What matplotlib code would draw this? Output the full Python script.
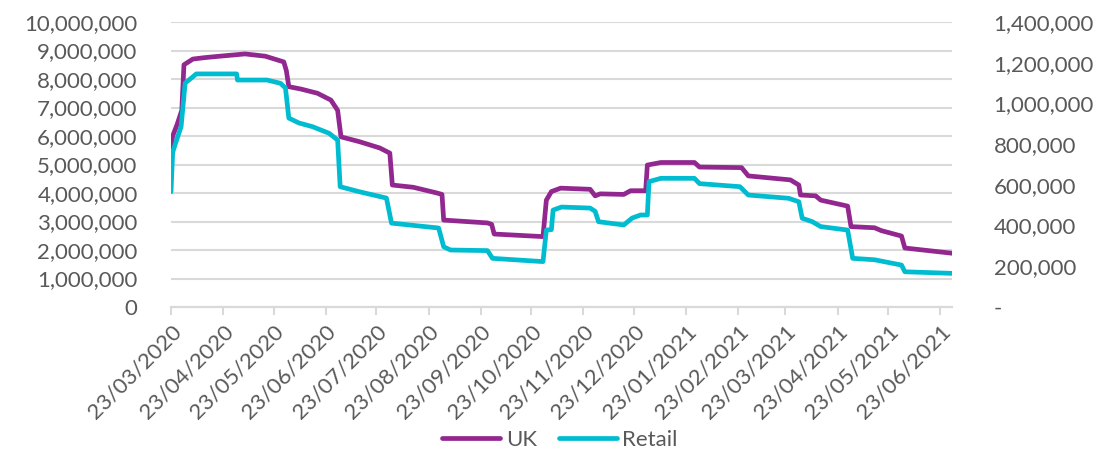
import matplotlib
matplotlib.use('Agg')
from matplotlib import pyplot as plt
import matplotlib.dates as mdates
from matplotlib.ticker import FuncFormatter
import numpy as np
import datetime as dt

# day offsets from 23/03/2020 and values
uk_days = [0, 1, 3.6, 6.4, 7.7, 13, 20, 29, 44, 56, 67, 68.5, 70, 77, 87, 95, 99, 101,
           112, 124, 130, 131.5, 144, 158, 161, 162, 188, 190.5, 192, 221, 223, 226,
           231.5, 249, 252, 255, 269, 273, 282, 283, 291, 311, 314, 339, 343, 368, 373,
           374, 383, 386, 402, 404, 418, 422, 434, 436, 465]
uk_vals = [5.6, 6.0, 6.4, 6.9, 8.5, 8.7, 8.75, 8.8, 8.88, 8.8, 8.6, 8.3, 7.73, 7.65, 7.5,
           7.26, 6.9, 5.97, 5.8, 5.58, 5.4, 4.28, 4.2, 4.0, 3.95, 3.05, 2.95, 2.9, 2.56,
           2.47, 3.75, 4.05, 4.17, 4.13, 3.9, 3.97, 3.95, 4.08, 4.08, 4.98, 5.07, 5.07,
           4.91, 4.89, 4.6, 4.46, 4.28, 3.93, 3.9, 3.75, 3.54, 2.82, 2.78, 2.68, 2.49,
           2.07, 1.88]  # millions

retail_days = [0, 1, 3, 6, 8.4, 13, 15, 39, 39.5, 57, 65, 68, 70, 76, 84, 94, 99, 100.5,
               112, 128, 131, 159, 162, 166, 188, 191, 221, 223, 226, 227, 232, 249, 252,
               254, 269, 274, 279, 283, 284, 291, 311, 314, 338, 343, 367, 373, 375, 381,
               386, 402, 405, 418, 434, 436, 465]
retail_vals = [566, 760, 812, 886, 1100, 1131, 1145, 1145, 1115, 1115, 1099, 1076, 928,
               904, 886, 853, 820, 591, 566, 535, 412, 388, 296, 280, 277, 239, 223, 378,
               380, 476, 491, 486, 470, 419, 403, 437, 452, 452, 616, 632, 632, 606, 591,
               550, 534, 517, 436, 419, 395, 378, 239, 232, 206, 173, 165]  # thousands

start = dt.datetime(2020, 3, 23)
tick_dates = [dt.datetime(2020 + (2 + m) // 12, (2 + m) % 12 + 1, 23) for m in range(16)]

#############################################
#                 畫圖                       #
#############################################
plt.rcParams['font.family'] = ['Lato', 'DejaVu Sans']
grey = '#595959'
fs = 16

fig = plt.figure(figsize=(11, 4.54), dpi=100)
ax = fig.add_axes([171/1100, 1-307/454, (952-171)/1100, (307-22)/454])
ax2 = ax.twinx()

uk_x = [start + dt.timedelta(days=d) for d in uk_days]
rt_x = [start + dt.timedelta(days=d) for d in retail_days]
l1, = ax.plot(uk_x, np.array(uk_vals)*1e6, color='#92278F', lw=3.4, solid_joinstyle='round',
              solid_capstyle='round', label='UK', zorder=3)
l2, = ax2.plot(rt_x, np.array(retail_vals)*1e3, color='#00BCD0', lw=3.4, solid_joinstyle='round',
               solid_capstyle='round', label='Retail', zorder=3)

ax.set_ylim(0, 10e6)
ax.set_yticks(np.arange(0, 10.1e6, 1e6))
ax.yaxis.set_major_formatter(FuncFormatter(lambda v, p: f'{int(v):,}'))
ax2.set_ylim(0, 1.4e6)
ax2.set_yticks(np.arange(0, 1.41e6, 2e5))
ax2.yaxis.set_major_formatter(FuncFormatter(lambda v, p: '-' if v == 0 else f'{int(v):,}'))

ax.set_xlim(start, dt.datetime(2021, 6, 30))
ax.set_xticks(tick_dates)
ax.xaxis.set_major_formatter(mdates.DateFormatter('%d/%m/%Y'))
for lab in ax.get_xticklabels():
    lab.set_rotation(45)
    lab.set_ha('right')
    lab.set_rotation_mode('anchor')

ax.grid(axis='y', color='#d9d9d9', lw=1.5)
ax.set_axisbelow(True)
for a in (ax, ax2):
    for s in ('top', 'left', 'right'):
        a.spines[s].set_visible(False)
    a.spines['bottom'].set_color('#d9d9d9')
    a.spines['bottom'].set_linewidth(1.5)
ax.tick_params(axis='y', length=0, pad=24, labelsize=fs, labelcolor=grey)
ax2.tick_params(axis='y', length=0, pad=30, labelsize=fs, labelcolor=grey)
ax.tick_params(axis='x', length=6, width=1.5, color='#d9d9d9', labelsize=fs, labelcolor=grey, pad=4)

fig.legend(handles=[l1, l2], loc='center', bbox_to_anchor=(560/1100, 1-440/454), ncol=2,
           frameon=False, fontsize=fs, labelcolor=grey, handlelength=2.6, handletextpad=0.25,
           columnspacing=1.0)

fig.savefig('out.png', dpi=100)
